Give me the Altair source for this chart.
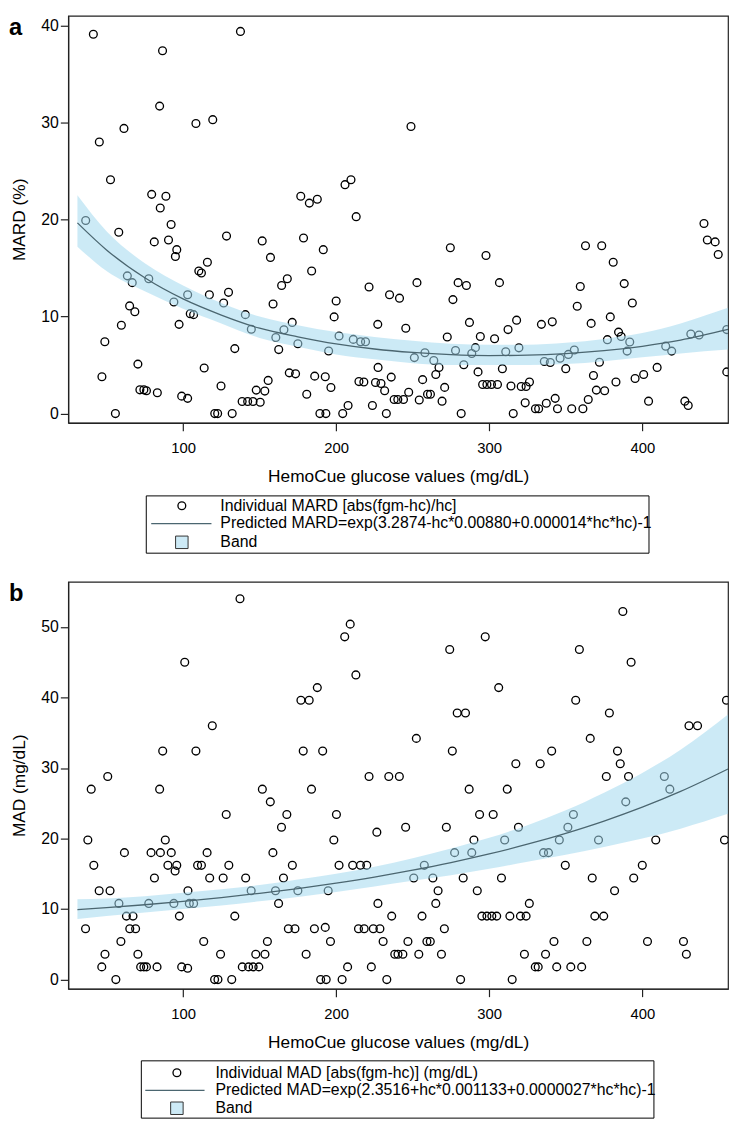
import altair as alt
import pandas as pd

# ---------------- Panel a: MARD (%) ----------------
a_hc = [41.4, 45.3, 52.6, 61.4, 36.4, 58.0, 63.6, 66.8, 77.6, 79.5, 85.1, 88.8, 84.7, 86.6, 81.2,
        90.5, 92.2, 95.9, 95.0, 108.4, 119.4, 110.3, 112.0, 115.9, 128.4, 137.5, 151.7, 157.1,
        164.4, 168.1, 176.9, 182.5, 187.7, 178.7, 184.0, 191.6, 205.8, 209.7, 213.1,
        248.9, 274.6, 297.9, 221.5, 252.8, 279.7, 285.1, 306.7, 359.5, 388.2, 362.9, 373.5, 381.0,
        440.3, 442.5, 447.6, 449.6,
        65.1, 68.5, 59.7, 48.9, 47.0, 55.8, 70.5, 71.8, 74.4, 76.1, 83.2, 94.0, 97.4, 99.1, 103.0,
        103.0, 104.7, 106.9, 117.2, 113.8, 126.5, 129.7, 124.8, 120.7, 122.6, 132.1, 133.8, 140.7,
        144.6, 138.6, 142.2, 145.7, 150.4, 147.8, 153.4, 155.6, 158.8, 160.6, 162.5, 165.9, 171.3,
        169.4, 173.5, 175.0, 180.8, 186.0, 192.9, 196.6, 189.4, 193.3, 195.1, 198.7, 200.0, 201.9,
        204.3, 207.8, 211.2, 216.0, 219.2, 214.9, 218.1,
        234.9, 241.4, 276.3, 227.2, 245.5, 251.1, 258.0, 263.8, 267.2, 265.1, 227.4, 225.7, 229.3,
        236.0, 231.7, 237.9, 240.3, 244.0, 247.4, 254.3, 256.5, 259.7, 261.6, 269.2, 270.9, 223.7,
        232.8, 272.6, 278.0, 283.4, 287.1, 288.6, 291.0, 294.2, 292.7, 295.7, 298.5, 301.5, 305.4,
        281.7, 303.5, 308.6, 310.8, 312.3, 317.9, 319.4, 314.2, 320.9, 324.1, 326.3, 323.5, 315.7,
        330.2, 332.3, 337.3, 343.1, 344.6, 353.9, 361.2, 364.7, 336.0, 339.9, 334.1, 341.2, 346.3,
        351.7, 355.6, 350.0, 357.5, 366.6, 368.1, 370.0, 375.4, 372.0, 379.1, 377.2, 384.5, 386.2,
        382.8, 391.8, 390.1, 393.5, 395.3, 400.9, 404.1, 409.7, 415.3, 419.2, 427.8, 430.0, 431.7,
        437.1, 455.2, 455.2]
a_mard = [39.1, 28.0, 24.1, 29.4, 19.9, 18.7, 14.2, 13.5, 13.9, 22.6, 21.2, 22.4, 31.7, 37.4, 17.7,
          17.9, 19.5, 16.9, 16.2, 29.9, 30.3, 14.7, 14.5, 15.6, 18.3, 39.4, 17.8, 16.1,
          13.2, 13.9, 22.4, 21.7, 22.1, 18.1, 14.7, 16.9, 23.6, 24.1, 20.3,
          29.6, 17.1, 16.3, 13.05, 13.5, 13.5, 13.2, 13.5, 13.1, 13.4, 17.3, 17.3, 15.6,
          19.6, 17.9, 17.7, 16.4,
          11.1, 10.5, 9.1, 7.4, 3.8, 0.0, 5.1, 2.45, 2.45, 2.35, 2.15, 11.5, 9.2, 1.8, 1.57,
          12.25, 10.3, 10.2, 12.25, 4.7, 11.4, 12.5, 2.85, 0.0, 0.0, 0.0, 6.7, 10.2,
          8.7, 1.24, 1.24, 1.24, 1.17, 2.42, 2.32, 3.42, 11.3, 7.85, 6.6, 8.65, 9.4,
          4.2, 4.1, 7.2, 2.0, 3.86, 3.8, 2.69, 0.0, 0.0, 6.45, 9.97, 11.6, 8.0,
          0.0, 0.84, 7.65, 7.4, 7.4, 3.3, 3.25,
          12.25, 11.9, 11.75, 9.2, 8.8, 5.77, 6.27, 5.47, 4.76, 4.03, 4.76, 3.2, 3.1,
          3.76, 2.35, 1.45, 1.45, 1.45, 2.2, 1.4, 3.5, 2.0, 2.0, 1.28, 2.7, 0.84,
          0.0, 7.9, 6.5, 5.03, 9.4, 6.2, 6.8, 7.95, 4.3, 3.0, 3.0, 3.0, 3.0,
          0.0, 7.72, 4.63, 6.38, 8.66, 9.63, 6.78, 2.85, 2.79, 2.79, 3.26, 1.11, 0.0,
          0.5, 0.5, 1.07, 1.57, 0.5, 0.5, 0.5, 1.45, 5.37, 5.27, 9.2, 9.46, 5.7,
          6.1, 6.55, 4.63, 11.07, 9.3, 3.93, 2.42, 2.35, 5.3, 9.97, 7.62, 8.4, 7.95,
          3.26, 7.38, 6.44, 11.4, 3.62, 4.03, 1.28, 4.76, 6.95, 6.44, 1.28, 0.84, 8.2,
          8.1, 8.66, 4.3]

# fitted curve and band
fit_hc = [31, 50, 75, 100, 125, 150, 175, 200, 225, 250, 275, 300, 325, 350, 375, 400, 425, 456]
a_fit = [19.66, 16.87, 14.0, 11.82, 10.16, 8.8, 7.92, 7.19, 6.66, 6.30, 6.07, 5.98, 6.02, 6.18, 6.48, 6.94, 7.57, 8.67]
a_lo = [17.2, 14.7, 12.6, 10.8, 9.3, 7.8, 6.9, 6.1, 5.6, 5.2, 5.0, 5.0, 5.0, 5.1, 5.4, 5.8, 6.2, 6.6]
a_hi = [22.5, 18.8, 15.5, 13.2, 11.4, 10.0, 9.1, 8.4, 7.9, 7.5, 7.2, 7.1, 7.1, 7.3, 7.7, 8.3, 9.3, 10.9]

# ---------------- Panel b: MAD (mg/dL) ----------------
b_hc = [137.2, 101.1, 119.1, 86.7, 108.4, 50.8, 40.0, 84.7, 128.2, 37.8, 88.4, 177.0, 182.4, 187.7,
        178.5, 191.2, 183.9, 151.8, 157.0, 167.8, 164.3, 200.2, 198.5, 205.6, 209.2, 212.9, 221.5,
        387.3, 297.4, 274.2, 358.9, 392.7, 306.2, 356.5, 455.0, 279.1, 284.5, 378.5, 430.5, 436.1,
        252.4, 275.9, 366.0, 340.8, 383.8, 317.4, 333.3, 385.6, 234.4, 241.3, 376.5, 391.0, 414.4,
        286.9, 311.8, 418.0, 293.7, 302.6, 355.0, 389.2, 226.6, 245.4, 272.0, 319.1, 351.4, 290.0,
        310.1, 345.8, 371.4, 408.8, 453.7,
        41.7, 36.3, 45.2, 52.3, 61.7, 58.1, 63.0, 67.3, 65.2, 69.0, 59.4, 49.0, 46.9, 56.1, 70.5,
        72.3, 74.4, 76.1, 83.0, 79.1, 85.2, 81.3, 77.6, 90.1, 95.9, 92.3, 94.8, 94.0, 97.6, 103.2,
        104.1, 106.9, 99.1, 103.0, 109.5, 112.0, 115.7, 117.4, 113.5, 126.2, 129.9, 124.5, 120.6,
        122.8, 131.8, 133.8, 140.9, 144.5, 138.7, 142.8, 145.8, 149.5, 147.5, 153.5, 155.1, 158.7,
        160.4, 162.4, 165.6, 171.4, 175.0, 168.8, 173.1, 180.4, 185.8, 192.9, 196.3, 194.8, 189.9,
        193.5, 203.9, 207.5, 201.9, 210.8, 215.9, 220.0, 214.6, 218.3, 223.0,
        277.4, 288.6, 335.5, 338.7, 257.6, 250.7, 263.2, 283.0, 308.0, 349.7, 367.3, 394.4, 400.0,
        266.6, 292.2, 381.9, 227.3, 265.1, 326.2, 236.3, 256.1, 295.2, 298.5, 301.7, 304.9, 313.5,
        320.4, 324.1, 369.0, 374.8, 224.3, 228.6, 270.7, 230.7, 246.9, 259.3, 261.5, 342.3, 363.8,
        403.4, 426.9, 238.3, 240.4, 243.6, 254.0, 268.8, 323.0, 336.8, 428.8, 330.1, 332.0, 344.1,
        353.3, 360.4, 233.1, 281.3, 315.0]
b_mad = [54.0, 45.0, 36.0, 32.4, 32.4, 28.8, 27.0, 27.0, 23.4, 19.8, 19.8, 39.6, 39.6, 41.4,
         32.4, 32.4, 27.0, 27.0, 25.2, 23.4, 21.6, 23.4, 19.8, 48.6, 50.4, 43.2, 28.8,
         52.2, 48.6, 46.8, 46.8, 45.0, 41.4, 39.6, 39.6, 37.8, 37.8, 37.8, 36.0, 36.0,
         34.2, 32.4, 34.2, 32.4, 32.4, 30.6, 30.6, 30.6, 28.8, 28.8, 28.8, 28.8, 28.8,
         27.0, 27.0, 27.0, 23.4, 23.4, 23.4, 25.2, 20.9, 21.6, 21.6, 21.6, 21.6, 19.8,
         19.8, 19.8, 19.8, 19.8, 19.8,
         16.2, 7.2, 12.6, 12.6, 18.0, 10.8, 9.0, 9.0, 7.2, 7.2, 5.4, 3.6, 1.8, 0.0, 3.6,
         1.8, 1.8, 1.8, 1.8, 18.0, 18.0, 14.4, 10.8, 16.2, 16.2, 18.0, 15.4, 10.8, 9.0, 12.6,
         10.8, 10.8, 1.8, 1.6, 16.2, 16.2, 18.0, 14.4, 5.4, 14.4, 16.2, 3.6, 0.0,
         0.0, 0.0, 9.0, 14.4, 12.6, 1.8, 1.8, 1.8, 1.8, 3.6, 3.6, 5.4, 18.0,
         12.6, 10.8, 14.4, 16.2, 12.6, 7.2, 7.2, 3.6, 7.2, 7.4, 5.4, 12.6, 0.0,
         0.0, 0.0, 1.8, 16.2, 16.2, 16.2, 16.2, 7.2, 7.2, 1.8,
         18.0, 18.0, 18.0, 18.0, 16.2, 14.4, 14.4, 14.4, 14.4, 16.2, 14.4, 14.4, 16.2,
         12.6, 12.6, 12.6, 10.8, 10.8, 10.8, 9.0, 9.0, 9.0, 9.0, 9.0, 9.0, 9.0,
         9.0, 9.0, 9.0, 9.0, 7.2, 7.2, 7.2, 5.4, 5.4, 5.4, 5.4, 5.4, 5.4,
         5.4, 5.4, 3.6, 3.6, 3.6, 3.6, 3.6, 3.6, 3.6, 3.6, 1.8, 1.8, 1.8,
         1.8, 1.8, 0.0, 0.0, 0.0]

b_fit = [9.91, 10.19, 10.61, 11.08, 11.62, 12.23, 12.91, 13.68, 14.54, 15.51, 16.59, 17.81, 19.19, 20.74, 22.48, 24.45, 26.68, 29.86]
b_lo = [8.6, 9.0, 9.5, 10.0, 10.5, 11.1, 11.7, 12.4, 13.2, 14.0, 14.8, 15.7, 16.7, 17.7, 18.8, 20.0, 21.4, 23.5]
b_hi = [11.4, 11.5, 11.8, 12.3, 12.8, 13.4, 14.2, 15.0, 16.0, 17.2, 18.6, 20.1, 21.9, 24.0, 26.5, 29.3, 32.6, 37.6]

x_ticks = [100, 200, 300, 400]
a_yticks = [0, 10, 20, 30, 40]
b_yticks = [0, 10, 20, 30, 40, 50]
x_title = "HemoCue glucose values (mg/dL)"
a_legend = ["Individual MARD [abs(fgm-hc)/hc]",
            "Predicted MARD=exp(3.2874-hc*0.00880+0.000014*hc*hc)-1",
            "Band"]
b_legend = ["Individual MAD [abs(fgm-hc)] (mg/dL)",
            "Predicted MAD=exp(2.3516+hc*0.001133+0.0000027*hc*hc)-1",
            "Band"]

FONT = "Liberation Sans"
W, H = 668, 412
BAND = "#a3d8ee"
LINE = "#4b6670"


def panel(hc, vals, fit, lo, hi, ytitle, ydom, yticks, letter, legend, lg):
    pts_df = pd.DataFrame({"hc": hc, "v": vals})
    fit_df = pd.DataFrame({"hc": fit_hc, "fit": fit, "lo": lo, "hi": hi})
    xsc = alt.Scale(domain=[25, 456], nice=False, zero=False)
    ysc = alt.Scale(domain=ydom, nice=False, zero=False)

    pts = alt.Chart(pts_df).mark_point(
        shape="circle", filled=False, color="black", strokeWidth=1.35, size=62, opacity=1, clip=True
    ).encode(
        x=alt.X("hc:Q", scale=xsc, axis=alt.Axis(values=x_ticks, title=x_title, titlePadding=12,
                                                 labelFontSize=15, labelPadding=10)),
        y=alt.Y("v:Q", scale=ysc, axis=alt.Axis(values=yticks, title=ytitle, titlePadding=12,
                                                labelFontSize=16, labelPadding=2)),
    )
    band = alt.Chart(fit_df).mark_area(color=BAND, opacity=0.55, clip=True, interpolate="monotone").encode(
        x=alt.X("hc:Q", scale=xsc), y=alt.Y("lo:Q", scale=ysc), y2="hi:Q"
    )
    line = alt.Chart(fit_df).mark_line(color=LINE, strokeWidth=1.3, clip=True, interpolate="monotone").encode(
        x=alt.X("hc:Q", scale=xsc), y=alt.Y("fit:Q", scale=ysc)
    )

    one = pd.DataFrame({"k": [0]})
    box = alt.Chart(one).mark_rect(fill="white", stroke="black", strokeWidth=1).encode(
        x=alt.value(lg["box"][0]), x2=alt.value(lg["box"][1]),
        y=alt.value(H + lg["box"][2]), y2=alt.value(H + lg["box"][3]),
    )
    sym_c = alt.Chart(one).mark_point(shape="circle", filled=False, color="black", strokeWidth=1.35,
                                      size=62, opacity=1).encode(
        x=alt.value(lg["circ"]), y=alt.value(H + lg["rows"][0]))
    sym_l = alt.Chart(one).mark_rule(color=LINE, strokeWidth=1.3).encode(
        x=alt.value(lg["line"][0]), x2=alt.value(lg["line"][1]), y=alt.value(H + lg["rows"][1]))
    sym_s = alt.Chart(one).mark_square(size=160, fill="#cdeaf6", stroke="#333333", strokeWidth=1,
                                       opacity=1).encode(
        x=alt.value(lg["circ"]), y=alt.value(H + lg["rows"][2]))
    texts = []
    for i, lab in enumerate(legend):
        texts.append(alt.Chart(pd.DataFrame({"t": [lab]})).mark_text(
            align="left", baseline="middle", font=FONT, fontSize=16, color="black"
        ).encode(text="t:N", x=alt.value(lg["text"]), y=alt.value(H + lg["rows"][i])))
    let = alt.Chart(pd.DataFrame({"t": [letter]})).mark_text(
        align="left", baseline="top", font=FONT, fontSize=24, fontWeight="bold", color="black"
    ).encode(text="t:N", x=alt.value(-60), y=alt.value(0))

    return alt.layer(pts, band, line, box, sym_c, sym_l, sym_s, *texts, let).properties(width=W, height=H)


lg_a = {"box": [79, 588, 74, 132], "circ": 115, "line": [84, 145], "text": 154, "rows": [84, 102, 121]}
lg_b = {"box": [74, 593, 73, 131], "circ": 110, "line": [78, 138], "text": 149, "rows": [85, 103, 121]}

pa = panel(a_hc, a_mard, a_fit, a_lo, a_hi, "MARD (%)", [-0.95, 41], a_yticks, "a", a_legend, lg_a)
pb = panel(b_hc, b_mad, b_fit, b_lo, b_hi, "MAD (mg/dL)", [-1.3, 56.4], b_yticks, "b", b_legend, lg_b)

chart = alt.vconcat(pa, pb, spacing=26).resolve_scale(x="independent", y="independent").configure(
    padding=0, font=FONT
).configure_view(
    stroke="#222222", strokeWidth=1.2
).configure_axis(
    grid=False, domainColor="#222222", domainWidth=1.2, tickColor="#222222", tickWidth=1.2, tickSize=8,
    labelColor="black", labelFont=FONT, titleFont=FONT, titleFontSize=17.5, titleFontWeight="normal",
    titleColor="black"
)

chart.save("out.html", embed_options={"renderer": "svg", "actions": False})
